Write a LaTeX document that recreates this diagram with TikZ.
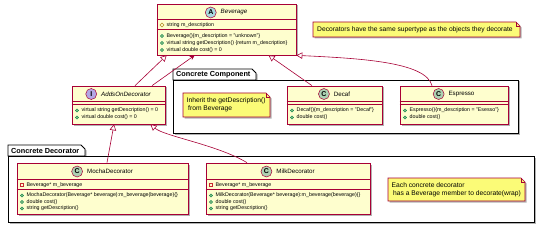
\documentclass[tikz,border=0pt]{standalone}
\usepackage{fontspec}
\setmainfont{Liberation Sans}
\usetikzlibrary{arrows.meta,shadows,positioning,calc}
\definecolor{bord}{HTML}{A80036}
\definecolor{clsfill}{HTML}{FEFECE}
\definecolor{notefill}{HTML}{FBFB77}
\definecolor{circC}{HTML}{ADD1B2}
\definecolor{circA}{HTML}{A9DCDF}
\definecolor{circI}{HTML}{B4A7E5}
\definecolor{pubfill}{HTML}{84BE84}
\definecolor{publine}{HTML}{038048}
\definecolor{privline}{HTML}{C82930}
\definecolor{protline}{HTML}{B38D22}
\pgfdeclarelayer{pkg}
\pgfdeclarelayer{notebg}
\pgfsetlayers{pkg,notebg,main}
\newcommand\pubdot[2]{\filldraw[pub] (#1,#2) circle (1.6);}
\newcommand\privsq[2]{\draw[priv] (#1-1.6,#2-1.6) rectangle (#1+1.6,#2+1.6);}
\newcommand\protdia[2]{\draw[prot] (#1-2,#2) -- (#1,#2-2) -- (#1+2,#2) -- (#1,#2+2) -- cycle;}
\newcommand\notebg[4]{%
  \begin{pgfonlayer}{notebg}
  \filldraw[noteshape] (#1,#2) -- (#3-4,#2) -- (#3,#2+4) -- (#3,#4) -- (#1,#4) -- cycle;
  \draw[noteline] (#3-4,#2) -- (#3-4,#2+4) -- (#3,#2+4);
  \end{pgfonlayer}}
\begin{document}
\begin{tikzpicture}[x=1pt,y=-1pt,
  shad/.style={drop shadow={shadow xshift=1.5pt,shadow yshift=-1.5pt,opacity=0.3,fill=black}},
  cls/.style={rectangle,draw=bord,fill=clsfill,line width=0.7pt,inner sep=0pt,shad},
  sepl/.style={draw=bord,line width=0.7pt},
  hcirc/.style={circle,draw=bord,line width=0.5pt,minimum size=11pt,inner sep=0pt,font=\fontsize{7}{7}\selectfont\bfseries},
  hname/.style={inner sep=0pt,font=\fontsize{6.2}{7}\selectfont},
  hnamei/.style={inner sep=0pt,font=\fontsize{6.2}{7}\selectfont\itshape},
  mem/.style={anchor=west,inner sep=0pt,font=\fontsize{5.3}{6}\selectfont},
  pub/.style={fill=pubfill,draw=publine,line width=0.35pt},
  priv/.style={draw=privline,line width=0.4pt},
  prot/.style={draw=protline,line width=0.4pt},
  noteshape/.style={fill=notefill,draw=bord,line width=0.6pt,shad},
  noteline/.style={draw=bord,line width=0.6pt},
  notetxt/.style={anchor=west,inner sep=0pt,align=left,font=\fontsize{6.7}{7.8}\selectfont},
  pkgbox/.style={rectangle,draw=black,fill=white,line width=0.9pt,inner sep=0pt,shad},
  pkgtab/.style={draw=black,fill=white,line width=0.9pt,shad},
  pkgtitle/.style={anchor=west,inner sep=0pt,font=\fontsize{7.3}{8}\selectfont\bfseries},
  gen/.style={draw=bord,line width=0.6pt,-{Triangle[open,length=6pt,width=6.5pt,fill=white]}},
  assoc/.style={draw=bord,line width=0.6pt,-{Stealth[length=5pt,width=4.5pt]}}
]
\useasboundingbox (0,0) rectangle (540,227);
\begin{pgfonlayer}{pkg}
  \fill[white] (0,0) rectangle (540,227);
  % Concrete Component package
  \filldraw[pkgtab] (173,80) -- (173,69) -- (252,69) -- (256,73) -- (256,80) -- cycle;
  \node[pkgbox,minimum width=345pt,minimum height=53pt] (pcc) at (345.5,106.5) {};
  \node[pkgtitle] (pccT) at (176,74.8) {Concrete Component};
  % Concrete Decorator package
  \filldraw[pkgtab] (8,156) -- (8,145) -- (81,145) -- (85,149) -- (85,156) -- cycle;
  \node[pkgbox,minimum width=526pt,minimum height=66pt] (pcd) at (271,189) {};
  \node[pkgtitle] (pcdT) at (11,150.8) {Concrete Decorator};
\end{pgfonlayer}

% ---------- Beverage ----------
\node[cls,minimum width=139pt,minimum height=51pt] (bev) at (226.5,29.5) {};
\draw[sepl] ([yshift=-16pt]bev.north west) -- ([yshift=-16pt]bev.north east);
\draw[sepl] ([yshift=-26pt]bev.north west) -- ([yshift=-26pt]bev.north east);
\node[hnamei] (bevN) at (234,12.5) {Beverage};
\node[hcirc,fill=circA,left=4pt of bevN] (bevC) {A};
\protdia{162}{25}
\node[mem] (bev0) at (166.5,25) {string m\_description};
\pubdot{162}{36}
\node[mem] (bev1) at (166.5,36) {Beverage()\{m\_description = "unknown"\}};
\pubdot{162}{43}
\node[mem] (bev2) at (166.5,43) {virtual string getDescription() \{return m\_description\}};
\pubdot{162}{50}
\node[mem] (bev3) at (166.5,50) {virtual double cost() = 0};

% ---------- AddsOnDecorator ----------
\node[cls,minimum width=93pt,minimum height=38pt] (adds) at (118.5,105) {};
\draw[sepl] ([yshift=-16pt]adds.north west) -- ([yshift=-16pt]adds.north east);
\draw[sepl] ([yshift=-19pt]adds.north west) -- ([yshift=-19pt]adds.north east);
\node[hnamei] (addsN) at (126,94) {AddsOnDecorator};
\node[hcirc,fill=circI,left=4pt of addsN] (addsC) {I};
\pubdot{77}{110.5}
\node[mem] (adds1) at (81.5,110.5) {virtual string getDescription() = 0};
\pubdot{77}{117.5}
\node[mem] (adds2) at (81.5,117.5) {virtual double cost() = 0};

% ---------- Decaf ----------
\node[cls,minimum width=95pt,minimum height=38pt] (decaf) at (334.5,105) {};
\draw[sepl] ([yshift=-16pt]decaf.north west) -- ([yshift=-16pt]decaf.north east);
\draw[sepl] ([yshift=-19pt]decaf.north west) -- ([yshift=-19pt]decaf.north east);
\node[hname] (decafN) at (342,94) {Decaf};
\node[hcirc,fill=circC,left=4pt of decafN] (decafC) {C};
\pubdot{292}{110.5}
\node[mem] (decaf1) at (296.5,110.5) {Decaf()\{m\_description = "Decaf"\}};
\pubdot{292}{117.5}
\node[mem] (decaf2) at (296.5,117.5) {double cost()};

% ---------- Espresso ----------
\node[cls,minimum width=108pt,minimum height=38pt] (esp) at (454,105) {};
\draw[sepl] ([yshift=-16pt]esp.north west) -- ([yshift=-16pt]esp.north east);
\draw[sepl] ([yshift=-19pt]esp.north west) -- ([yshift=-19pt]esp.north east);
\node[hname] (espN) at (461.5,94) {Espresso};
\node[hcirc,fill=circC,left=4pt of espN] (espC) {C};
\pubdot{405}{110.5}
\node[mem] (esp1) at (409.5,110.5) {Espresso()\{m\_description = "Esesso"\}};
\pubdot{405}{117.5}
\node[mem] (esp2) at (409.5,117.5) {double cost()};

% ---------- MochaDecorator ----------
\node[cls,minimum width=171pt,minimum height=51pt] (mocha) at (102.5,188.5) {};
\draw[sepl] ([yshift=-17pt]mocha.north west) -- ([yshift=-17pt]mocha.north east);
\draw[sepl] ([yshift=-27pt]mocha.north west) -- ([yshift=-27pt]mocha.north east);
\node[hname] (mochaN) at (110,171.5) {MochaDecorator};
\node[hcirc,fill=circC,left=4pt of mochaN] (mochaC) {C};
\privsq{22}{185}
\node[mem] (mocha0) at (26.5,185) {Beverage* m\_beverage};
\pubdot{22}{195.5}
\node[mem] (mocha1) at (26.5,195.5) {MochaDecorator(Beverage* beverage):m\_beverage(beverage)\{\}};
\pubdot{22}{202}
\node[mem] (mocha2) at (26.5,202) {double cost()};
\pubdot{22}{208.5}
\node[mem] (mocha3) at (26.5,208.5) {string getDescription()};

% ---------- MilkDecorator ----------
\node[cls,minimum width=164pt,minimum height=51pt] (milk) at (288,188.5) {};
\draw[sepl] ([yshift=-17pt]milk.north west) -- ([yshift=-17pt]milk.north east);
\draw[sepl] ([yshift=-27pt]milk.north west) -- ([yshift=-27pt]milk.north east);
\node[hname] (milkN) at (295.5,171.5) {MilkDecorator};
\node[hcirc,fill=circC,left=4pt of milkN] (milkC) {C};
\privsq{211}{185}
\node[mem] (milk0) at (215.5,185) {Beverage* m\_beverage};
\pubdot{211}{195.5}
\node[mem] (milk1) at (215.5,195.5) {MilkDecorator(Beverage* beverage):m\_beverage(beverage)\{\}};
\pubdot{211}{202}
\node[mem] (milk2) at (215.5,202) {double cost()};
\pubdot{211}{208.5}
\node[mem] (milk3) at (215.5,208.5) {string getDescription()};

% ---------- Notes ----------
\notebg{313}{22}{520}{37}
\node[notetxt] (n1) at (317,29.5) {Decorators have the same supertype as the objects they decorate};
\notebg{183}{93}{270}{117}
\node[notetxt] (n2) at (186.5,105) {Inherit the getDescription()\\\hspace{1.5pt}from Beverage};
\notebg{388}{178}{525}{201}
\node[notetxt] (n3) at (391.5,189.5) {Each concrete decorator\\\hspace{1.5pt}has a Beverage member to decorate(wrap)};

% ---------- Connectors ----------
\draw[gen] ([xshift=16.5pt]adds.north) -- ([xshift=10pt]bev.south west);
\draw[assoc] ([xshift=33.5pt]adds.north) -- ([xshift=38pt]bev.south west);
\draw[gen] ([xshift=-22.5pt]decaf.north) -- ([xshift=112pt]bev.south west);
\draw[gen] ([xshift=-22pt]esp.north) .. controls +(-6,-24) and +(62,3) .. (bev.south east);
\draw[gen] ([xshift=4.5pt]mocha.north) -- ([xshift=-4.5pt]adds.south);
\draw[gen] ([xshift=-41pt]milk.north) .. controls +(-30,-18) and +(14,12) .. ([xshift=32pt]adds.south);
\end{tikzpicture}
\end{document}
